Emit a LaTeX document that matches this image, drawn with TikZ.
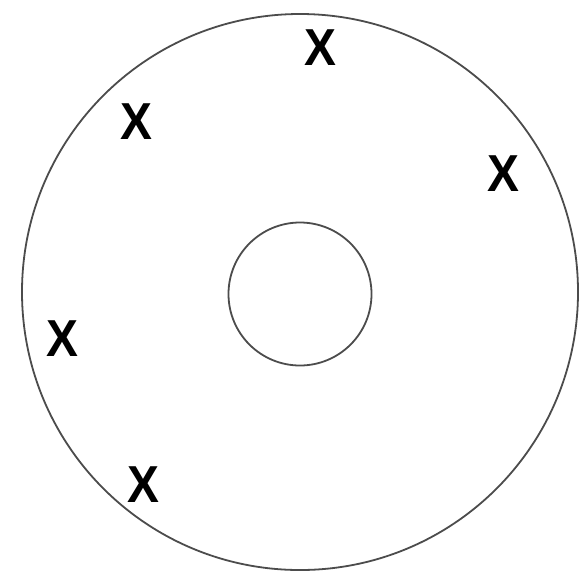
\documentclass[tikz,border=0pt]{standalone}
\usepackage{fontspec}
\setmainfont{Liberation Sans}
\begin{document}
\begin{tikzpicture}[x=1pt,y=-1pt,
  ring/.style={draw=black!70,line width=1.8pt},
  xmark/.style={inner sep=0pt,font=\fontsize{52}{52}\selectfont,xscale=0.92}]
\useasboundingbox (0,0) rectangle (585,574);
\fill[white] (0,0) rectangle (585,574);
\node[ring,circle,minimum size=556pt,inner sep=0pt] (outer) at (300,292) {};
\node[ring,circle,minimum size=143pt,inner sep=0pt] (inner) at (300,294) {};
\node[xmark] (x1) at (320,48) {\textbf{X}};
\node[xmark] (x2) at (136,122) {\textbf{X}};
\node[xmark] (x3) at (503,174) {\textbf{X}};
\node[xmark] (x4) at (62,339) {\textbf{X}};
\node[xmark] (x5) at (143,485) {\textbf{X}};
\end{tikzpicture}
\end{document}
